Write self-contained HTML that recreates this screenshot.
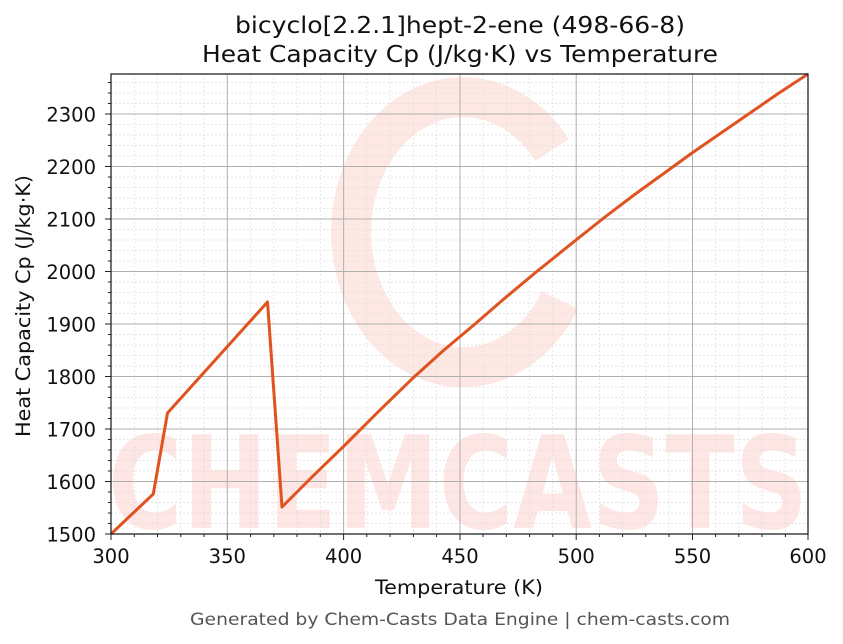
<!DOCTYPE html>
<html><head><meta charset="utf-8"><style>
body{margin:0;background:#fff;}
svg{display:block;font-family:"DejaVu Sans","Liberation Sans",sans-serif;}
</style></head><body>
<svg width="843" height="644" viewBox="0 0 843 644">
<rect width="843" height="644" fill="#fff"/>
<!-- watermark -->
<g opacity="0.13" fill="#f04a30">
<path d="M552 150 A112 135 0 1 0 560 300" fill="none" stroke="#f04a30" stroke-width="40"/>
<text x="458" y="528" font-size="128" font-weight="bold" text-anchor="middle" textLength="700" lengthAdjust="spacingAndGlyphs">CHEMCASTS</text>
</g>
<!-- minor grid -->
<g stroke="#ddd" stroke-width="0.7" stroke-dasharray="2,2">
<path d="M134.3 74V534M157.5 74V534M180.8 74V534M204 74V534M250.6 74V534M273.8 74V534M297 74V534M320.3 74V534M366.8 74V534M390 74V534M413.4 74V534M436.6 74V534M483 74V534M506.3 74V534M529.6 74V534M552.8 74V534M599.4 74V534M622.6 74V534M645.8 74V534M669 74V534M715.6 74V534M738.8 74V534M762 74V534M785.4 74V534"/>
<path d="M111 523.5H808M111 513H808M111 502.5H808M111 492H808M111 471H808M111 460.5H808M111 450H808M111 439.5H808M111 418.5H808M111 408H808M111 397.5H808M111 387H808M111 366H808M111 355.5H808M111 345H808M111 334.5H808M111 313.5H808M111 303H808M111 292.5H808M111 282H808M111 261H808M111 250.5H808M111 240H808M111 229.5H808M111 208.5H808M111 198H808M111 187.5H808M111 177H808M111 156H808M111 145.5H808M111 135H808M111 124.5H808M111 103.5H808M111 93H808M111 82.5H808"/>
</g>
<!-- major grid -->
<g stroke="#b0b0b0" stroke-width="1">
<path d="M227.3 74V534M343.6 74V534M460 74V534M576.2 74V534M692.5 74V534"/>
<path d="M111 481.5H808M111 429H808M111 376.5H808M111 324H808M111 271.5H808M111 219H808M111 166.5H808M111 114H808"/>
</g>
<!-- series -->
<path d="M111 534L153.3 494L167.5 413L267.5 302L282 507L313 476L344 446L378 412L413 378L444 350L475 324L505 298L535 273L576 240L605 217L634 195L663 174L692 153L721 133L750 113L779 93L808 74" fill="none" stroke="#e0521f" stroke-width="3" stroke-linejoin="round"/>
<!-- axes -->
<rect x="111" y="74" width="697" height="460" fill="none" stroke="#222" stroke-width="1.3"/>
<g stroke="#222" stroke-width="1">
<path d="M111 534v6M227.3 534v6M343.6 534v6M460 534v6M576.2 534v6M692.5 534v6M808 534v6"/>
<path d="M134.3 534v3M157.5 534v3M180.8 534v3M204 534v3M250.6 534v3M273.8 534v3M297 534v3M320.3 534v3M366.8 534v3M390 534v3M413.4 534v3M436.6 534v3M483 534v3M506.3 534v3M529.6 534v3M552.8 534v3M599.4 534v3M622.6 534v3M645.8 534v3M669 534v3M715.6 534v3M738.8 534v3M762 534v3M785.4 534v3"/>
<path d="M111 534h-6M111 481.5h-6M111 429h-6M111 376.5h-6M111 324h-6M111 271.5h-6M111 219h-6M111 166.5h-6M111 114h-6"/>
<path d="M111 523.5h-3M111 513h-3M111 502.5h-3M111 492h-3M111 471h-3M111 460.5h-3M111 450h-3M111 439.5h-3M111 418.5h-3M111 408h-3M111 397.5h-3M111 387h-3M111 366h-3M111 355.5h-3M111 345h-3M111 334.5h-3M111 313.5h-3M111 303h-3M111 292.5h-3M111 282h-3M111 261h-3M111 250.5h-3M111 240h-3M111 229.5h-3M111 208.5h-3M111 198h-3M111 187.5h-3M111 177h-3M111 156h-3M111 145.5h-3M111 135h-3M111 124.5h-3M111 103.5h-3M111 93h-3M111 82.5h-3"/>
</g>
<g font-size="19.5" fill="#111" text-anchor="middle">
<text x="111" y="563">300</text><text x="227.3" y="563">350</text><text x="343.6" y="563">400</text><text x="460" y="563">450</text><text x="576.2" y="563">500</text><text x="692.5" y="563">550</text><text x="808" y="563">600</text>
</g>
<g font-size="19.5" fill="#111" text-anchor="end">
<text x="96" y="541.5">1500</text><text x="96" y="489">1600</text><text x="96" y="436.5">1700</text><text x="96" y="384">1800</text><text x="96" y="331.5">1900</text><text x="96" y="279">2000</text><text x="96" y="226.5">2100</text><text x="96" y="174">2200</text><text x="96" y="121.5">2300</text>
</g>
<text x="459" y="594" font-size="19.5" text-anchor="middle" fill="#111" textLength="168" lengthAdjust="spacingAndGlyphs">Temperature (K)</text>
<text transform="translate(30,306) rotate(-90)" font-size="19.5" text-anchor="middle" fill="#111" textLength="262" lengthAdjust="spacingAndGlyphs">Heat Capacity Cp (J/kg·K)</text>
<text x="460" y="33" font-size="23" text-anchor="middle" fill="#111" textLength="450" lengthAdjust="spacingAndGlyphs">bicyclo[2.2.1]hept-2-ene (498-66-8)</text>
<text x="460" y="62" font-size="23" text-anchor="middle" fill="#111" textLength="516" lengthAdjust="spacingAndGlyphs">Heat Capacity Cp (J/kg·K) vs Temperature</text>
<text x="460" y="625" font-size="17" text-anchor="middle" fill="#555" textLength="540" lengthAdjust="spacingAndGlyphs">Generated by Chem-Casts Data Engine | chem-casts.com</text>
</svg>
</body></html>
